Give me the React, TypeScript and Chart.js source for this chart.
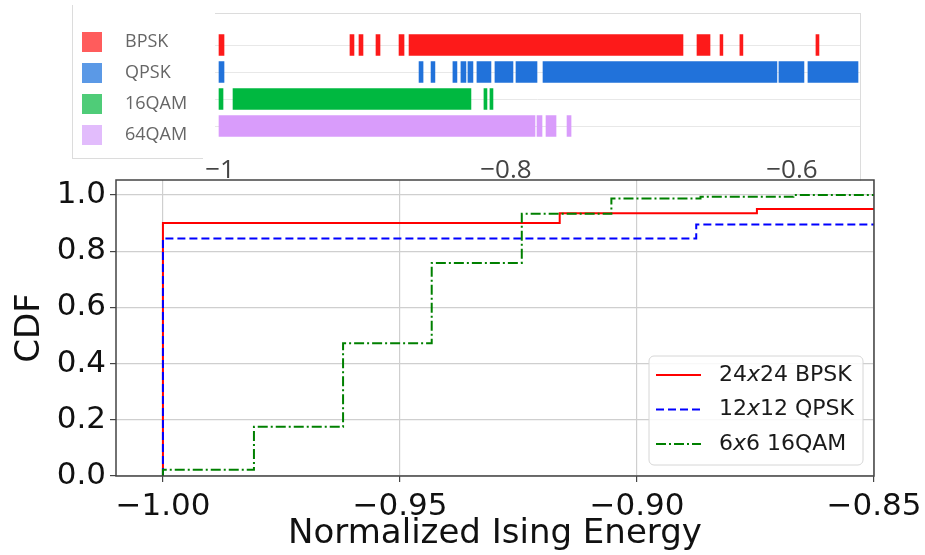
import React, { useEffect, useRef } from "react";
import { Chart, registerables } from "chart.js";
Chart.register(...registerables);

// ---------- top strip (rug) panel data ----------
const MODS = ["BPSK", "QPSK", "16QAM", "64QAM"];
const MOD_COLORS = ["#fd1a1a", "#2172da", "#00b840", "#d99cfb"];
const MOD_LEGEND_COLORS = ["#ff5c5c", "#5b99e6", "#4fcc78", "#e2bcfc"];
const BPSK_RUNS: [number, number][] = [
  [-1.0007, -0.9972], [-0.9091, -0.9063], [-0.9028, -0.9], [-0.8909, -0.8881],
  [-0.8748, -0.8713], [-0.8678, -0.6762], [-0.6664, -0.6573], [-0.6503, -0.6483],
  [-0.6364, -0.6343], [-0.5832, -0.5811],
];
const QPSK_RUNS: [number, number][] = [
  [-1.0007, -0.9972], [-0.8608, -0.858], [-0.8524, -0.8497], [-0.8371, -0.8343],
  [-0.8315, -0.828], [-0.8266, -0.8231], [-0.8203, -0.8105], [-0.8077, -0.7951],
  [-0.793, -0.7783], [-0.7741, -0.6105], [-0.6091, -0.5916], [-0.5888, -0.5538],
];
const QAM16_RUNS: [number, number][] = [
  [-1.0007, -0.9979], [-0.9909, -0.8245], [-0.8154, -0.8133], [-0.8112, -0.8091],
];
const QAM64_RUNS: [number, number][] = [
  [-1.0007, -0.7797], [-0.7783, -0.7748], [-0.772, -0.765], [-0.7573, -0.7545],
];
const MOD_RUNS = [BPSK_RUNS, QPSK_RUNS, QAM16_RUNS, QAM64_RUNS];
const STRIP_TICKS = [-1, -0.8, -0.6];
const STRIP_MIN = -1.0035;
const STRIP_MAX = -0.5524;

// ---------- bottom CDF panel data ----------
const SERIES_LABELS = ["24x24 BPSK", "12x12 QPSK", "6x6 16QAM"];
const SERIES_COLORS = ["#ff0000", "#0000ff", "#008000"];
const BPSK_X = [-1, -1, -0.9163, -0.8747, -0.85];
const BPSK_CDF = [0, 0.9, 0.935, 0.95, 0.95];
const QPSK_X = [-1, -1, -0.8875, -0.85];
const QPSK_CDF = [0, 0.845, 0.895, 0.895];
const QAM16_X = [-1, -1, -0.9808, -0.962, -0.9433, -0.9243, -0.9054, -0.8866, -0.867, -0.85];
const QAM16_CDF = [0, 0.022, 0.175, 0.4725, 0.758, 0.933, 0.987, 0.993, 1.0, 1.0];
const CDF_X_TICKS = [-1.0, -0.95, -0.9, -0.85];
const CDF_Y_TICKS = [0, 0.2, 0.4, 0.6, 0.8, 1.0];
const X_TITLE = "Normalized Ising Energy";
const Y_TITLE = "CDF";

const MPL_FONT = '"DejaVu Sans", sans-serif';
const PLOTLY_FONT = '"Open Sans", sans-serif';
const minus = (s: string) => s.replace("-", "\u2212");

const stripLegend = {
  id: "stripLegend",
  afterDraw(chart: any) {
    const ctx = chart.ctx;
    ctx.save();
    ctx.font = `18px ${PLOTLY_FONT}`;
    ctx.textBaseline = "middle";
    ctx.textAlign = "left";
    MODS.forEach((m, i) => {
      const cy = 42 + i * 31;
      ctx.fillStyle = MOD_LEGEND_COLORS[i];
      ctx.fillRect(82, cy - 10, 20, 20);
      ctx.fillStyle = "#666";
      ctx.fillText(m, 125, cy);
    });
    ctx.restore();
  },
};

const cdfDecor = {
  id: "cdfDecor",
  afterDraw(chart: any) {
    const ctx = chart.ctx;
    const a = chart.chartArea;
    ctx.save();
    ctx.strokeStyle = "#444";
    ctx.lineWidth = 1.5;
    ctx.strokeRect(a.left, a.top, a.right - a.left, a.bottom - a.top);
    const w = 214, h = 109;
    const x0 = a.right - 11 - w;
    const y0 = a.bottom - 11 - h;
    ctx.beginPath();
    const r = 5;
    ctx.moveTo(x0 + r, y0);
    ctx.arcTo(x0 + w, y0, x0 + w, y0 + h, r);
    ctx.arcTo(x0 + w, y0 + h, x0, y0 + h, r);
    ctx.arcTo(x0, y0 + h, x0, y0, r);
    ctx.arcTo(x0, y0, x0 + w, y0, r);
    ctx.closePath();
    ctx.fillStyle = "rgba(255,255,255,0.85)";
    ctx.fill();
    ctx.strokeStyle = "#d6d6d6";
    ctx.lineWidth = 1;
    ctx.stroke();
    chart.data.datasets.forEach((ds: any, i: number) => {
      const cy = y0 + 19 + i * 34.5;
      ctx.beginPath();
      ctx.setLineDash(ds.borderDash || []);
      ctx.strokeStyle = ds.borderColor;
      ctx.lineWidth = 2;
      ctx.moveTo(x0 + 7, cy);
      ctx.lineTo(x0 + 52, cy);
      ctx.stroke();
      ctx.setLineDash([]);
      const parts = String(ds.label).match(/^(\d+)x(.*)$/);
      ctx.fillStyle = "#1a1a1a";
      ctx.textBaseline = "middle";
      ctx.textAlign = "left";
      let tx = x0 + 70;
      const normal = `22px ${MPL_FONT}`;
      const italic = `italic 22px ${MPL_FONT}`;
      if (parts) {
        ctx.font = normal;
        ctx.fillText(parts[1], tx, cy);
        tx += ctx.measureText(parts[1]).width;
        ctx.font = italic;
        ctx.fillText("x", tx, cy);
        tx += ctx.measureText("x").width;
        ctx.font = normal;
        ctx.fillText(parts[2], tx, cy);
      } else {
        ctx.font = normal;
        ctx.fillText(ds.label, tx, cy);
      }
    });
    ctx.restore();
  },
};

function StripChart() {
  const ref = useRef<HTMLCanvasElement>(null);
  useEffect(() => {
    const chart = new Chart(ref.current!, {
      type: "bar",
      data: {
        labels: MODS,
        datasets: MODS.map((m, i) => ({
          label: m,
          data: MOD_RUNS[i].map((r) => ({ x: r, y: m })) as any,
          backgroundColor: MOD_COLORS[i],
          borderWidth: 0,
          barThickness: 21,
          grouped: false,
        })),
      },
      options: {
        indexAxis: "y",
        animation: false,
        responsive: false,
        maintainAspectRatio: false,
        layout: { padding: { left: 0, right: 65, top: 31.5, bottom: 0 } },
        plugins: { legend: { display: false }, tooltip: { enabled: false } },
        scales: {
          x: {
            type: "linear",
            min: STRIP_MIN,
            max: STRIP_MAX,
            afterBuildTicks: (s: any) => {
              s.ticks = STRIP_TICKS.map((v) => ({ value: v }));
            },
            afterFit: (s: any) => {
              s.height = 40.5;
            },
            grid: { display: false },
            border: { display: false },
            ticks: {
              padding: 7,
              color: "#444",
              font: { family: PLOTLY_FONT, size: 26 },
              callback: (v: any) => minus(String(Number(v))),
            },
          },
          y: {
            type: "category",
            offset: true,
            afterFit: (s: any) => {
              s.width = 215;
            },
            grid: { offset: false, color: "#e8e8e8", lineWidth: 1, drawTicks: false },
            border: { display: false },
            ticks: { display: false },
          },
        },
      },
      plugins: [stripLegend],
    } as any);
    return () => chart.destroy();
  }, []);
  return (
    <canvas
      ref={ref}
      width={925}
      height={180}
      style={{ position: "absolute", left: 0, top: 0, width: 925, height: 180 }}
    />
  );
}

function CdfChart() {
  const ref = useRef<HTMLCanvasElement>(null);
  useEffect(() => {
    const mk = (xs: number[], ys: number[]) => xs.map((x, i) => ({ x, y: ys[i] }));
    const chart = new Chart(ref.current!, {
      type: "line",
      data: {
        datasets: [
          {
            label: SERIES_LABELS[0],
            data: mk(BPSK_X, BPSK_CDF),
            borderColor: SERIES_COLORS[0],
            borderWidth: 2,
            stepped: "before",
            pointRadius: 0,
            fill: false,
            order: 3,
          },
          {
            label: SERIES_LABELS[1],
            data: mk(QPSK_X, QPSK_CDF),
            borderColor: SERIES_COLORS[1],
            borderWidth: 2,
            borderDash: [8, 4],
            stepped: "before",
            pointRadius: 0,
            fill: false,
            order: 2,
          },
          {
            label: SERIES_LABELS[2],
            data: mk(QAM16_X, QAM16_CDF),
            borderColor: SERIES_COLORS[2],
            borderWidth: 2,
            borderDash: [10, 3, 2, 3],
            stepped: "before",
            pointRadius: 0,
            fill: false,
            order: 1,
          },
        ],
      },
      options: {
        animation: false,
        responsive: false,
        maintainAspectRatio: false,
        layout: { padding: { left: 0, right: 51, top: 10, bottom: 0 } },
        plugins: { legend: { display: false }, tooltip: { enabled: false } },
        scales: {
          x: {
            type: "linear",
            min: -1.0099,
            max: -0.85,
            afterBuildTicks: (s: any) => {
              s.ticks = CDF_X_TICKS.map((v) => ({ value: v }));
            },
            afterFit: (s: any) => {
              s.height = 79;
              s.paddingLeft = 0;
              s.paddingRight = 0;
            },
            grid: { color: "#cfcfcf", lineWidth: 1.2, tickLength: 6, tickColor: "#444" },
            border: { display: false },
            ticks: {
              padding: 6,
              color: "#111",
              font: { family: MPL_FONT, size: 31 },
              callback: (v: any) => minus(Number(v).toFixed(2)),
            },
            title: {
              display: true,
              text: X_TITLE,
              color: "#111",
              font: { family: MPL_FONT, size: 34 },
              padding: { top: -8, bottom: 0 },
            },
          },
          y: {
            type: "linear",
            min: 0,
            max: 1.053,
            afterBuildTicks: (s: any) => {
              s.ticks = CDF_Y_TICKS.map((v) => ({ value: v }));
            },
            afterFit: (s: any) => {
              s.width = 116;
              s.paddingTop = 0;
              s.paddingBottom = 0;
            },
            grid: { color: "#cfcfcf", lineWidth: 1.2, tickLength: 6, tickColor: "#444" },
            border: { display: false },
            ticks: {
              padding: 4,
              color: "#111",
              font: { family: MPL_FONT, size: 31 },
              callback: (v: any) => Number(v).toFixed(1),
            },
            title: {
              display: true,
              text: Y_TITLE,
              color: "#111",
              font: { family: MPL_FONT, size: 34 },
              padding: { top: 10, bottom: 0 },
            },
          },
        },
      },
      plugins: [cdfDecor],
    } as any);
    return () => chart.destroy();
  }, []);
  return (
    <canvas
      ref={ref}
      width={925}
      height={385}
      style={{ position: "absolute", left: 0, top: 170, width: 925, height: 385 }}
    />
  );
}

export default function App() {
  return (
    <div
      style={{
        position: "fixed",
        left: 0,
        top: 0,
        width: 925,
        height: 555,
        background: "#fff",
        overflow: "hidden",
      }}
    >
      <div
        style={{
          position: "absolute",
          left: 72,
          top: 5,
          width: 130,
          height: 153,
          borderLeft: "1px solid #dcdcdc",
          borderBottom: "1px solid #dcdcdc",
        }}
      />
      <div
        style={{
          position: "absolute",
          left: 215,
          top: 13,
          width: 645,
          height: 167,
          borderTop: "1px solid #dcdcdc",
          borderRight: "1px solid #dcdcdc",
        }}
      />
      <StripChart />
      <CdfChart />
    </div>
  );
}
